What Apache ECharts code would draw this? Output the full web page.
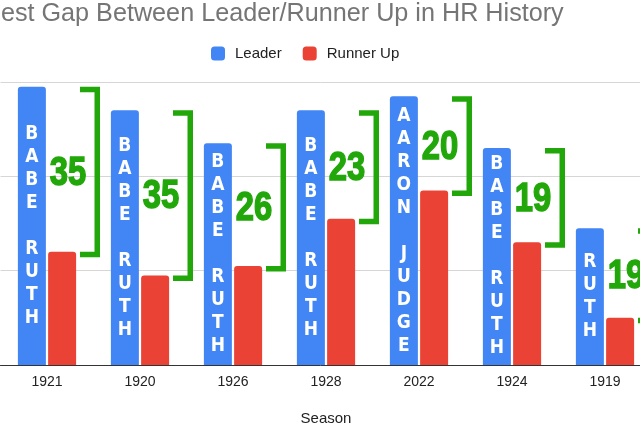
<!DOCTYPE html>
<html>
<head>
<meta charset="utf-8">
<script src="https://cdn.jsdelivr.net/npm/echarts@6/dist/echarts.min.js"></script>
<style>
html,body{margin:0;padding:0;background:#fff;}
#chart{width:640px;height:427px;}
</style>
</head>
<body>
<div id="chart"></div>
<script>
const seasons = ['1921', '1920', '1926', '1928', '2022', '1924', '1919'];
const leaderHR = [59, 54, 47, 54, 57, 46, 29];
const runnerUpHR = [24, 19, 21, 31, 37, 26, 10];
const gapLabels = [35, 35, 26, 23, 20, 19, 19];
const leaderNames = ['BABE RUTH', 'BABE RUTH', 'BABE RUTH', 'BABE RUTH', 'AARON JUDGE', 'BABE RUTH', 'RUTH'];
const yMin = 0, yMax = 60, yStep = 20;

const GREEN = '#22a70a';
const chart = echarts.init(document.getElementById('chart'), null, {renderer: 'canvas'});

const gapData = seasons.map((s, i) => [i, leaderHR[i], runnerUpHR[i], gapLabels[i]]);

chart.setOption({
  animation: false,
  backgroundColor: '#ffffff',
  title: {
    text: 'Largest Gap Between Leader/Runner Up in HR History',
    left: -49.5, top: 2, padding: 0,
    textStyle: {fontFamily: 'Liberation Sans', fontSize: 25.2, fontWeight: 'normal', color: '#757575'}
  },
  legend: {
    data: ['Leader', 'Runner Up'],
    left: 211, top: 46, padding: 0,
    icon: 'roundRect',
    itemWidth: 14, itemHeight: 14, itemGap: 21,
    textStyle: {fontFamily: 'Liberation Sans', fontSize: 15, color: '#222', padding: [0, 0, 0, 5]}
  },
  grid: {left: 0.5, right: -11.5, top: 82, bottom: 62, containLabel: false, outerBoundsMode: 'none'},
  xAxis: {
    type: 'category',
    data: seasons,
    name: 'Season',
    nameLocation: 'middle',
    nameGap: 46,
    nameTextStyle: {fontFamily: 'Liberation Sans', fontSize: 15, color: '#222'},
    axisLine: {lineStyle: {color: '#333', width: 1}},
    axisTick: {show: false},
    axisLabel: {fontFamily: 'Liberation Sans', fontSize: 14, color: '#222', margin: 10}
  },
  yAxis: {
    type: 'value', min: yMin, max: yMax, interval: yStep,
    axisLine: {show: false}, axisTick: {show: false},
    axisLabel: {fontFamily: 'Liberation Sans', fontSize: 14, color: '#444'},
    splitLine: {lineStyle: {color: '#d6d6d6', width: 1}}
  },
  series: [
    {
      name: 'Leader', type: 'bar', data: leaderHR,
      barWidth: 28, barGap: '8%',
      itemStyle: {color: '#4285F4', borderRadius: [3, 3, 0, 0]},
      label: {
        show: true, position: 'inside',
        formatter: p => leaderNames[p.dataIndex].split('').join('\n'),
        fontFamily: '"DejaVu Sans Condensed", "Liberation Sans", sans-serif', fontWeight: 'bold', fontSize: 19, lineHeight: 23,
        color: '#ffffff', align: 'center'
      }
    },
    {
      name: 'Runner Up', type: 'bar', data: runnerUpHR,
      barWidth: 28,
      itemStyle: {color: '#EA4335', borderRadius: [3, 3, 0, 0]}
    },
    {
      name: 'Gap', type: 'custom', data: gapData, z: 5, clip: false,
      encode: {x: 0, y: [1, 2]},
      renderItem: function (params, api) {
        const i = api.value(0);
        const top = api.coord([i, api.value(1)]);
        const bot = api.coord([i, api.value(2)]);
        const bw = api.size([1, 0])[0];
        const cx = top[0];
        const x0 = cx + bw * 0.355, x1 = cx + bw * 0.57;
        const t = 5.5;
        const yT = top[1] + t / 2, yB = bot[1] + t / 2;
        return {
          type: 'group',
          children: [
            {
              type: 'polyline',
              shape: {points: [[x0, yT], [x1 - t / 2, yT], [x1 - t / 2, yB], [x0, yB]]},
              style: {stroke: GREEN, lineWidth: t, fill: null, lineJoin: 'miter', lineCap: 'butt'}
            },
            {
              type: 'text',
              x: cx + bw * 0.225, y: (top[1] + bot[1]) / 2 + 4,
              scaleX: 0.8, scaleY: 1,
              style: {
                text: String(api.value(3)),
                x: 0, y: 0,
                align: 'center', verticalAlign: 'middle',
                fontFamily: 'Liberation Sans', fontWeight: 'bold', fontSize: 41,
                fill: GREEN, stroke: GREEN, lineWidth: 1.5
              }
            }
          ]
        };
      }
    }
  ]
});
</script>
</body>
</html>
